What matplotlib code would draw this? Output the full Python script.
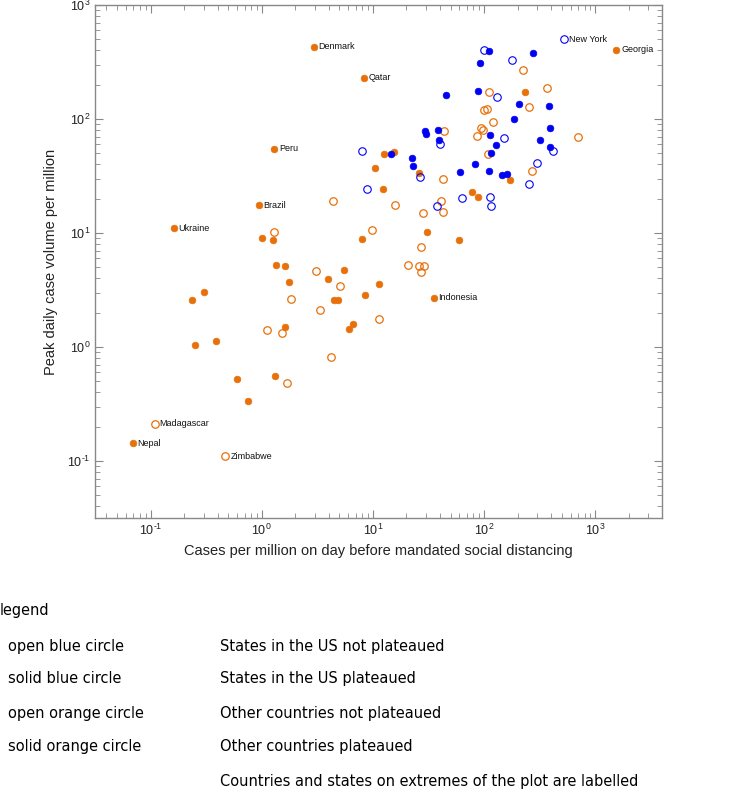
import matplotlib
matplotlib.use('Agg')
import numpy as np
import matplotlib.pyplot as plt
from matplotlib.ticker import FuncFormatter

plt.rcParams['font.family'] = ['Liberation Sans', 'DejaVu Sans']
plt.rcParams['mathtext.fontset'] = 'custom'
plt.rcParams['mathtext.rm'] = 'Liberation Sans'
plt.rcParams['mathtext.it'] = 'Liberation Sans:italic'

# US states not plateaued (open blue)
us_open_x = [525, 99.6, 178, 131, 151, 415, 296, 255, 63.2, 113, 116, 38.0, 7.94, 8.8, 40.4, 26.7]
us_open_y = [499, 405, 327, 157, 68.1, 52.5, 40.9, 26.8, 20.2, 20.6, 17.2, 17.4, 52.1, 24.5, 60.0, 31.2]

# US states plateaued (solid blue)
us_solid_x = [110, 274, 91.1, 45.8, 87.9, 204, 385, 187, 114, 393, 321, 390, 127, 115, 110, 146, 159,
              82.2, 60.7, 14.6, 29.6, 30.0, 38.3, 39.3, 22.5, 23.0]
us_solid_y = [392, 381, 308, 161, 177, 135, 130, 99.4, 71.9, 83.4, 65.9, 57.2, 59.6, 50.7, 35.2, 32.5, 33.2,
              40.6, 34.5, 49.0, 78.5, 73.5, 80.6, 65.9, 45.5, 38.7]

# other countries not plateaued (open orange)
oth_open_x = [222, 110, 366, 253, 100, 107, 121, 94.4, 97.5, 85.7, 695, 109, 271, 42.4, 40.7, 42.4, 28.2,
              15.7, 43.9, 4.39, 1.30, 9.84, 26.9, 20.7, 26.0, 28.8, 27.3, 3.07, 5.05, 1.83, 3.32, 1.12,
              1.53, 11.4, 4.21, 1.70, 0.109, 0.471]
oth_open_y = [267, 171, 187, 127, 120, 122, 93.5, 83.9, 80.1, 70.4, 70.0, 49.7, 35.2, 29.8, 19.1, 15.3, 15.0,
              17.7, 78.5, 19.1, 10.1, 10.6, 7.55, 5.22, 5.09, 5.09, 4.59, 4.68, 3.46, 2.63, 2.13, 1.40,
              1.33, 1.76, 0.815, 0.479, 0.212, 0.110]

# other countries plateaued (solid orange)
oth_solid_x = [2.93, 8.28, 1546, 1.30, 0.94, 0.161, 35.2, 0.069, 231, 172, 78.3, 88.7, 10.5, 12.5, 15.4,
               12.4, 25.8, 30.9, 59.4, 1.01, 1.26, 7.94, 1.34, 1.63, 5.45, 3.94, 1.75, 11.4, 0.303, 0.237,
               4.48, 4.87, 8.46, 1.62, 6.08, 6.60, 0.252, 0.389, 0.597, 1.32, 0.748]
oth_solid_y = [430, 230, 405, 54.6, 17.5, 11.0, 2.70, 0.143, 173, 29.0, 22.8, 20.8, 37.4, 49.6, 51.4,
               24.5, 33.4, 10.2, 8.65, 9.1, 8.65, 8.87, 5.25, 5.18, 4.78, 3.91, 3.71, 3.58, 3.03, 2.58,
               2.59, 2.56, 2.83, 1.50, 1.44, 1.59, 1.05, 1.13, 0.526, 0.560, 0.336]

# labelled extremes
label_names = ['Denmark', 'Qatar', 'New York', 'Georgia', 'Peru', 'Brazil', 'Ukraine', 'Indonesia',
               'Madagascar', 'Nepal', 'Zimbabwe']
label_x = [2.93, 8.28, 525, 1546, 1.30, 0.94, 0.161, 35.2, 0.109, 0.069, 0.471]
label_y = [430, 230, 499, 405, 54.6, 17.5, 11.0, 2.70, 0.212, 0.143, 0.110]

legend_keys = ['open blue circle', 'solid blue circle', 'open orange circle', 'solid orange circle', '']
legend_texts = ['States in the US not plateaued', 'States in the US plateaued', 'Other countries not plateaued',
                'Other countries plateaued', 'Countries and states on extremes of the plot are labelled']

orange = '#E8700A'
blue = '#0000F5'

fig = plt.figure(figsize=(7.31, 8.01), dpi=100)
ax = fig.add_axes([0.130, 0.3533, 0.7756, 0.6405])

ax.plot(oth_open_x, oth_open_y, 'o', ms=5.4, mfc='none', mec=orange, mew=0.9, ls='none')
ax.plot(oth_solid_x, oth_solid_y, 'o', ms=4.8, mfc=orange, mec=orange, mew=0.5, ls='none')
ax.plot(us_open_x, us_open_y, 'o', ms=5.4, mfc='none', mec=blue, mew=0.8, ls='none')
ax.plot(us_solid_x, us_solid_y, 'o', ms=4.8, mfc=blue, mec=blue, mew=0.5, ls='none')

for name, x, y in zip(label_names, label_x, label_y):
    ax.annotate(name, (x, y), xytext=(3.5, 0), textcoords='offset points', va='center', ha='left',
                fontsize=6.5, color='#111111')

ax.set_xscale('log')
ax.set_yscale('log')
ax.set_xlim(10 ** -1.5, 10 ** 3.6)
ax.set_ylim(10 ** -1.5, 1000)


def pow_fmt(v, pos):
    e = int(round(np.log10(v)))
    if e < 0:
        return r'$10^{\text{-}%d}$' % abs(e)
    return r'$10^{%d}$' % e


ax.xaxis.set_major_formatter(FuncFormatter(pow_fmt))
ax.yaxis.set_major_formatter(FuncFormatter(pow_fmt))

for s in ax.spines.values():
    s.set_color('#888888')
    s.set_linewidth(1.0)
ax.tick_params(which='both', direction='in', top=True, right=True, color='#888888', labelsize=9,
               labelcolor='#222222')
ax.tick_params(which='major', length=6)
ax.tick_params(which='minor', length=3.5)

ax.set_xlabel('Cases per million on day before mandated social distancing', fontsize=10.5, color='#222222',
              labelpad=4)
ax.set_ylabel('Peak daily case volume per million', fontsize=10.5, color='#222222', labelpad=6)

# legend block below the chart (baseline-aligned rows)
fam = ['DejaVu Sans']
fig.text(0 / 731, 1 - 615 / 801, 'legend', fontsize=11.7, family=fam, stretch='condensed',
         va='baseline', ha='left')
rows_y = [651, 683, 718, 751, 786]
for key, txt, yy in zip(legend_keys, legend_texts, rows_y):
    if key:
        fig.text(8 / 731, 1 - yy / 801, key, fontsize=11.7, family=fam, stretch='condensed',
                 va='baseline', ha='left')
    fig.text(220 / 731, 1 - yy / 801, txt, fontsize=11.7, family=fam, stretch='condensed',
             va='baseline', ha='left')

fig.savefig('out.png', dpi=100)
